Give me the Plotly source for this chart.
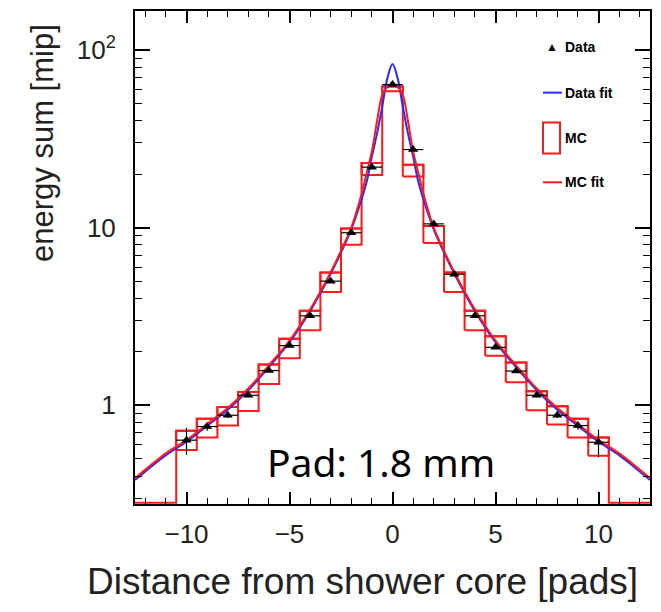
import plotly.graph_objects as go

# ---------------- data ----------------
data_x = [-10, -9, -8, -7, -6, -5, -4, -3, -2, -1, 0, 1, 2, 3, 4, 5, 6, 7, 8, 9, 10]
data_y = [0.637, 0.76, 0.88, 1.14, 1.57, 2.17, 3.19, 5.0, 9.36, 21.9, 63.8,
          27.5, 10.5, 5.47, 3.19, 2.12, 1.56, 1.14, 0.88, 0.77, 0.62]
data_yerr = [0.11, 0.04, 0.03, 0.03, 0.03, 0.04, 0.06, 0.1, 0.2, 0.4, 1.2,
             0.5, 0.2, 0.1, 0.06, 0.04, 0.03, 0.03, 0.03, 0.04, 0.11]
data_xerr = [0.5] * len(data_x)

# MC histogram: bin contents (top of each bin) and lower edge of the MC box
mc_x = list(range(-13, 14))
mc_y = [0, 0, 0, 0.72, 0.84, 0.98, 1.19, 1.70, 2.37, 3.41, 5.59, 9.9, 23.1, 62.2,
        22.6, 10.2, 5.59, 3.41, 2.45, 1.74, 1.20, 0.99, 0.84, 0.66, 0, 0, 0]
mc_low = [0, 0, 0, 0.56, 0.66, 0.77, 0.93, 1.32, 1.84, 2.65, 4.35, 8.0, 19.8, 58.5,
          19.4, 8.2, 4.35, 2.65, 1.90, 1.35, 0.94, 0.78, 0.66, 0.52, 0, 0, 0]

fit_x = [-12.5, -11, -10, -9, -8, -7, -6, -5, -4, -3, -2.5, -2, -1.5, -1.25, -1, -0.75,
         -0.5, -0.25, 0, 0.25, 0.5, 0.75, 1, 1.25, 1.5, 2, 2.5, 3, 4, 5, 6, 7, 8, 9,
         10, 11, 12.5]
datafit_y = [0.380, 0.525, 0.624, 0.767, 0.944, 1.216, 1.641, 2.265, 3.39, 5.50, 7.24,
             9.77, 14.45, 18.2, 25.1, 33.9, 47.9, 69.2, 83.2, 69.2, 47.9, 33.9, 25.1,
             18.2, 14.45, 9.77, 7.24, 5.50, 3.39, 2.265, 1.641, 1.216, 0.944, 0.767,
             0.624, 0.525, 0.380]
mcfit_y = [0.389, 0.537, 0.638, 0.785, 0.966, 1.245, 1.679, 2.317, 3.467, 5.62, 7.41,
           10.0, 15.5, 20.4, 26.9, 39.8, 55.6, 61.7, 63.1, 61.7, 55.6, 39.8, 26.9,
           20.4, 15.5, 10.0, 7.41, 5.62, 3.467, 2.317, 1.679, 1.245, 0.966, 0.785,
           0.638, 0.537, 0.389]

x_ticks = [-10, -5, 0, 5, 10]
y_ticks = [1, 10, 100]
y_ticktext = ["1", "10", "10<sup>2</sup>"]

X_RANGE = [-12.5, 12.5]
Y_LOG_RANGE = [-0.555, 2.219]

# ---------------- figure ----------------
OFF = 8  # page body margin
W, H = 661 - OFF, 612 - OFF
ML, MT = 135 - OFF, 9 - OFF
PR, PB = 650 - OFF, 504 - OFF
MR, MB = W - PR, H - PB
PW, PH = PR - ML, PB - MT


def px(xw):
    return (xw - OFF - ML) / PW


def py(yw):
    return (PB - (yw - OFF)) / PH


RED = "#ff1a1a"
BLUE = "#2a2aff"
FONT = "Liberation Sans, Arial, Helvetica, sans-serif"

floor = 10 ** Y_LOG_RANGE[0] * 1.015

fig = go.Figure()

# MC step histogram
fig.add_trace(go.Scatter(
    x=mc_x, y=[max(v, floor) for v in mc_y], mode="lines",
    line=dict(color=RED, width=2, shape="hvh"), showlegend=False, hoverinfo="skip"))

# MC boxes
bx, by = [], []
for c, v, lo in zip(mc_x, mc_y, mc_low):
    if v <= 0:
        continue
    x0, x1 = c - 0.5, c + 0.5
    bx += [x0, x1, x1, x0, x0, None]
    by += [lo, lo, v, v, lo, None]
fig.add_trace(go.Scatter(x=bx, y=by, mode="lines", line=dict(color=RED, width=2),
                         showlegend=False, hoverinfo="skip"))

# Data fit
fig.add_trace(go.Scatter(x=fit_x, y=datafit_y, mode="lines",
                         line=dict(color=BLUE, width=2, shape="spline", smoothing=1.0),
                         showlegend=False))
# MC fit
fig.add_trace(go.Scatter(x=fit_x, y=mcfit_y, mode="lines",
                         line=dict(color=RED, width=2, shape="spline", smoothing=1.0),
                         showlegend=False))

# Data points
fig.add_trace(go.Scatter(
    x=data_x, y=data_y, mode="markers",
    marker=dict(symbol="triangle-up", size=9, color="black"),
    error_y=dict(type="data", array=data_yerr, color="black", thickness=1.2, width=0),
    error_x=dict(type="data", array=data_xerr, color="black", thickness=1.2, width=0),
    showlegend=False))

axis_common = dict(
    showgrid=False, zeroline=False, showline=True, linecolor="black", linewidth=2,
    mirror="allticks", ticks="inside", tickcolor="black", tickwidth=1.5,
    tickfont=dict(family=FONT, size=26, color="#222"),
)

fig.update_xaxes(range=X_RANGE, tickvals=x_ticks, ticklen=12, ticklabelstandoff=6,
                 minor=dict(ticks="inside", ticklen=6, dtick=1, tickcolor="black",
                            tickwidth=1.2, showgrid=False),
                 **axis_common)
fig.update_yaxes(type="log", range=Y_LOG_RANGE, tickvals=y_ticks, ticktext=y_ticktext,
                 ticklen=15, ticklabelstandoff=12,
                 minor=dict(ticks="inside", ticklen=7, dtick="D1", tickcolor="black",
                            tickwidth=1.2, showgrid=False),
                 **axis_common)

annotations = [
    dict(text="energy sum [mip]", x=px(43), y=py(20), xref="paper", yref="paper",
         xanchor="center", yanchor="top", textangle=-90, showarrow=False,
         font=dict(family=FONT, size=31, color="#222")),
    dict(text="Distance from shower core [pads]", x=px(640), y=py(582), xref="paper",
         yref="paper", xanchor="right", yanchor="middle", showarrow=False,
         font=dict(family=FONT, size=37, color="#222")),
    dict(text="Pad: 1.8 mm", x=px(381), y=py(461), xref="paper", yref="paper",
         xanchor="center", yanchor="middle", showarrow=False,
         font=dict(family="Noto Sans, Open Sans, sans-serif", size=39, color="black")),
    # legend marker
    dict(text="▲", x=px(552), y=py(45), xref="paper", yref="paper", xanchor="center",
         yanchor="middle", showarrow=False, font=dict(family=FONT, size=12, color="black")),
]
for label, yy in [("Data", 45), ("Data fit", 91), ("MC", 137), ("MC fit", 181)]:
    annotations.append(dict(text="<b>" + label + "</b>", x=px(563), y=py(yy), xref="paper",
                            yref="paper", xanchor="left", yanchor="middle", showarrow=False,
                            font=dict(family=FONT, size=14, color="black")))

shapes = [
    dict(type="line", xref="paper", yref="paper", x0=px(543), x1=px(562), y0=py(91),
         y1=py(91), line=dict(color=BLUE, width=2)),
    dict(type="rect", xref="paper", yref="paper", x0=px(543), x1=px(560), y0=py(152),
         y1=py(121), line=dict(color=RED, width=2), fillcolor="rgba(0,0,0,0)"),
    dict(type="line", xref="paper", yref="paper", x0=px(543), x1=px(562), y0=py(181),
         y1=py(181), line=dict(color=RED, width=2)),
]

fig.update_layout(
    width=W, height=H, margin=dict(l=ML, r=MR, t=MT, b=MB),
    paper_bgcolor="white", plot_bgcolor="white", showlegend=False,
    annotations=annotations, shapes=shapes,
)

fig.write_html("out.html")
